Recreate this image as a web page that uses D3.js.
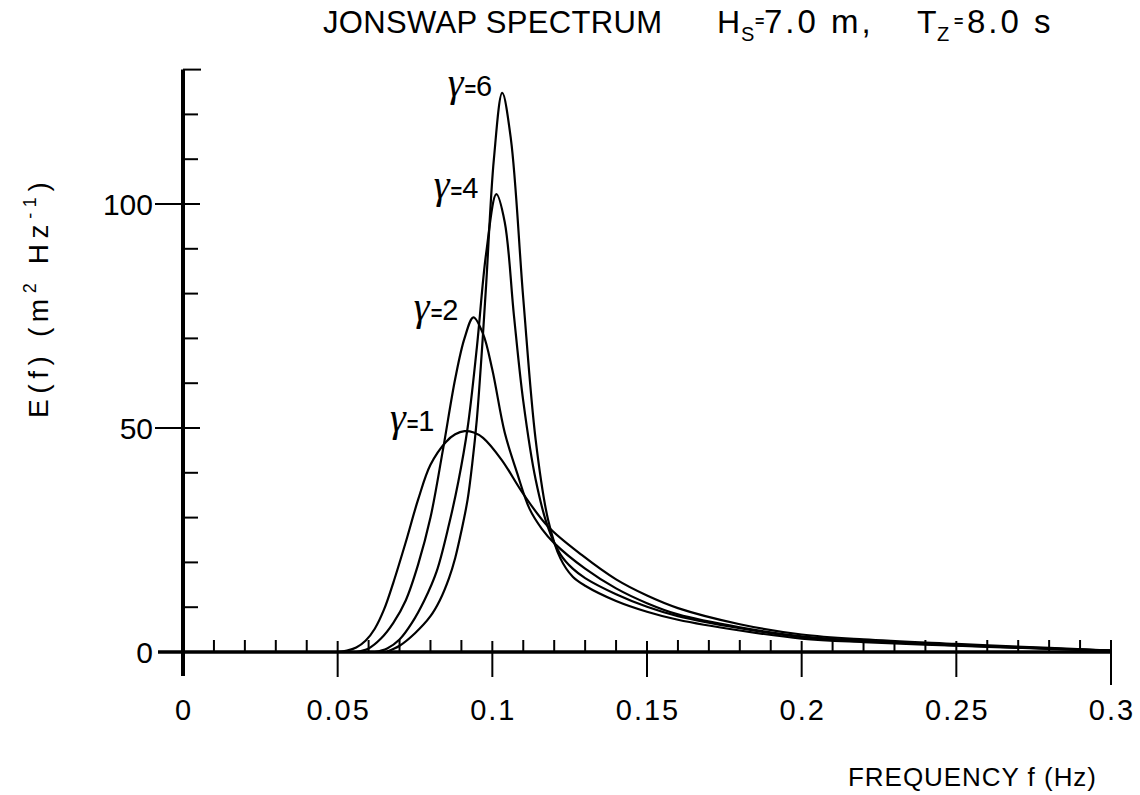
<!DOCTYPE html>
<html>
<head>
<meta charset="utf-8">
<script src="https://d3js.org/d3.v7.min.js"></script>
<style>
  body { margin: 0; background: #fff; }
  svg { font-family: 'Liberation Sans', Arial, sans-serif; }
</style>
</head>
<body>
<svg width="1140" height="795"></svg>
<script>
// JONSWAP spectra, Hs = 7.0 m, Tz = 8.0 s
const freqG1 = [0.050, 0.053, 0.056, 0.059, 0.062, 0.065, 0.068, 0.072, 0.076, 0.080, 0.085, 0.088, 0.091, 0.094, 0.097, 0.103, 0.110, 0.118, 0.129, 0.140, 0.150, 0.160, 0.180, 0.200, 0.220, 0.250, 0.280, 0.300];
const specG1 = [0, 0.3, 1.0, 2.5, 5.2, 9.5, 15.5, 24.5, 34.0, 41.8, 46.9, 48.6, 49.3, 49.0, 47.8, 42.9, 35.3, 28.0, 21.6, 16.2, 12.6, 9.8, 6.2, 3.9, 2.8, 1.8, 0.9, 0.3];

const freqG2 = [0.056, 0.060, 0.064, 0.068, 0.072, 0.076, 0.080, 0.084, 0.088, 0.091, 0.0939, 0.097, 0.100, 0.104, 0.108, 0.112, 0.116, 0.120, 0.130, 0.140, 0.150, 0.160, 0.180, 0.200, 0.220, 0.250, 0.280, 0.300];
const specG2 = [0, 0.8, 3.0, 6.5, 11.5, 19.5, 30.0, 45.0, 61.0, 70.0, 74.7, 71.0, 63.0, 49.0, 40.0, 32.0, 27.5, 24.3, 18.6, 14.2, 10.9, 8.4, 5.5, 3.5, 2.5, 1.6, 0.8, 0.3];

const freqG4 = [0.062, 0.066, 0.070, 0.074, 0.078, 0.082, 0.086, 0.089, 0.092, 0.095, 0.098, 0.1013, 0.104, 0.107, 0.110, 0.114, 0.118, 0.122, 0.126, 0.130, 0.140, 0.150, 0.160, 0.180, 0.200, 0.220, 0.250, 0.280, 0.300];
const specG4 = [0, 0.8, 2.8, 6.5, 11.5, 18.0, 28.5, 38.0, 50.0, 68.0, 89.0, 102.2, 96.0, 75.0, 56.0, 38.5, 27.8, 21.8, 18.6, 16.5, 12.9, 10.1, 8.0, 5.3, 3.3, 2.4, 1.5, 0.75, 0.3];

const freqG6 = [0.066, 0.070, 0.075, 0.080, 0.083, 0.086, 0.088, 0.090, 0.092, 0.0935, 0.095, 0.0965, 0.098, 0.1005, 0.1032, 0.106, 0.110, 0.114, 0.118, 0.122, 0.126, 0.130, 0.140, 0.150, 0.160, 0.180, 0.200, 0.220, 0.250, 0.280, 0.300];
const specG6 = [0.1, 1.4, 4.2, 8.0, 11.5, 16.5, 21.0, 27.0, 34.0, 42.0, 52.0, 66.0, 82.0, 110.0, 124.8, 114.5, 78.9, 47.4, 29.6, 20.9, 16.8, 14.8, 11.4, 9.0, 7.2, 4.8, 3.0, 2.2, 1.4, 0.7, 0.3];

const gammas = [1, 2, 4, 6];
const xTicks = [0, 0.05, 0.1, 0.15, 0.2, 0.25, 0.3];
const xTickLabels = ["0", "0.05", "0.1", "0.15", "0.2", "0.25", "0.3"];
const yTicks = [0, 50, 100];

const series = [
  {g: gammas[0], f: freqG1, e: specG1},
  {g: gammas[1], f: freqG2, e: specG2},
  {g: gammas[2], f: freqG4, e: specG4},
  {g: gammas[3], f: freqG6, e: specG6}
];
// label nudges (px) relative to each peak
const labelNudge = {1: [-30, 0], 2: [-15, 3], 4: [-18, 4], 6: [-10, 3]};

const svg = d3.select("svg");
const x = d3.scaleLinear().domain([0, 0.3]).range([183, 1111]);
const y = d3.scaleLinear().domain([0, 130]).range([652, 69.6]);

// axes
const ax = svg.append("g").attr("stroke", "#000").attr("fill", "none");
ax.append("line").attr("x1", x(0)).attr("x2", x(0)).attr("y1", y(130)).attr("y2", y(0) + 24).attr("stroke-width", 4);
ax.append("line").attr("x1", x(0) - 25).attr("x2", x(0.3)).attr("y1", y(0)).attr("y2", y(0)).attr("stroke-width", 3.5);

// y ticks
const yMinor = d3.range(10, 131, 10).filter(v => v % 50 != 0);
ax.selectAll(".ymin").data(yMinor).join("line")
  .attr("x1", x(0)).attr("x2", d => x(0) + (d == 130 ? 18 : 15))
  .attr("y1", d => y(d)).attr("y2", d => y(d)).attr("stroke-width", 2);
ax.selectAll(".ymaj").data(yTicks.filter(d => d > 0)).join("line")
  .attr("x1", x(0) - 28).attr("x2", x(0) + 17)
  .attr("y1", d => y(d)).attr("y2", d => y(d)).attr("stroke-width", 2);

// x ticks
const xMinor = d3.range(1, 30).filter(i => i % 5 != 0).map(i => i / 100);
ax.selectAll(".xmin").data(xMinor).join("line")
  .attr("x1", d => x(d)).attr("x2", d => x(d))
  .attr("y1", y(0)).attr("y2", y(0) - 12).attr("stroke-width", 2);
ax.selectAll(".xmaj").data(xTicks.filter(d => d > 0)).join("line")
  .attr("x1", d => x(d)).attr("x2", d => x(d))
  .attr("y1", d => y(0) - (d == 0.3 ? 12 : 11)).attr("y2", d => y(0) + (d == 0.3 ? 33 : 25)).attr("stroke-width", 2);

// tick labels
svg.selectAll(".ylab").data(yTicks).join("text")
  .attr("x", x(0) - 30).attr("y", d => y(d)).attr("dy", "0.36em")
  .attr("text-anchor", "end").attr("font-size", 30).text(d => d);
svg.selectAll(".xlab").data(xTicks).join("text")
  .attr("x", d => x(d) + 1).attr("y", 720)
  .attr("text-anchor", "middle").attr("font-size", 29).attr("letter-spacing", 2)
  .text((d, i) => xTickLabels[i]);

// curves
const line = d3.line().x(d => x(d[0])).y(d => y(d[1])).curve(d3.curveCatmullRom.alpha(0.5));
svg.append("g").selectAll("path").data(series).join("path")
  .attr("d", s => line(s.f.map((f, i) => [f, s.e[i]])))
  .attr("fill", "none").attr("stroke", "#000").attr("stroke-width", 2.2);

// gamma labels
const lab = svg.append("g").selectAll("text").data(series).join("text")
  .attr("x", s => { const i = d3.maxIndex(s.e); return x(s.f[i]) + labelNudge[s.g][0]; })
  .attr("y", s => { const i = d3.maxIndex(s.e); return y(s.e[i]) + labelNudge[s.g][1]; })
  .attr("text-anchor", "end");
lab.append("tspan").attr("font-family", "'Liberation Serif', serif").attr("font-style", "italic")
  .attr("font-size", 40).text("\u03b3");
lab.append("tspan").attr("font-size", 20).attr("font-weight", "bold").attr("dx", 1).text("=");
lab.append("tspan").attr("font-size", 29).text(s => s.g);

// title
const t = svg.append("g").attr("font-size", 31);
t.append("text").attr("x", 323).attr("y", 33).attr("textLength", 339).attr("lengthAdjust", "spacing").text("JONSWAP  SPECTRUM");
t.append("text").attr("x", 717).attr("y", 33).attr("font-size", 32).text("H");
t.append("text").attr("x", 741).attr("y", 41).attr("font-size", 20).text("S");
t.append("text").attr("x", 755).attr("y", 27).attr("font-size", 16).attr("font-weight", "bold").text("=");
t.append("text").attr("x", 764).attr("y", 33).attr("font-size", 33).attr("letter-spacing", 3).text("7.0 m,");
t.append("text").attr("x", 917).attr("y", 33).attr("font-size", 32).text("T");
t.append("text").attr("x", 937).attr("y", 41).attr("font-size", 20).text("Z");
t.append("text").attr("x", 954).attr("y", 27).attr("font-size", 16).attr("font-weight", "bold").text("=");
t.append("text").attr("x", 967).attr("y", 33).attr("font-size", 33).attr("letter-spacing", 3).text("8.0 s");

// axis titles
svg.append("text").attr("x", 848).attr("y", 786).attr("font-size", 26)
  .attr("textLength", 248).attr("lengthAdjust", "spacing").text("FREQUENCY  f  (Hz)");

const yl = svg.append("text").attr("transform", "translate(48,418) rotate(-90)")
  .attr("font-size", 28).attr("letter-spacing", 5.6);
yl.append("tspan").text("E(f) (m");
yl.append("tspan").attr("font-size", 18).attr("dy", -12).text("2");
yl.append("tspan").attr("dy", 12).text(" Hz");
yl.append("tspan").attr("font-size", 18).attr("dy", -12).text("-1");
yl.append("tspan").attr("dy", 12).text(")");
</script>
</body>
</html>
